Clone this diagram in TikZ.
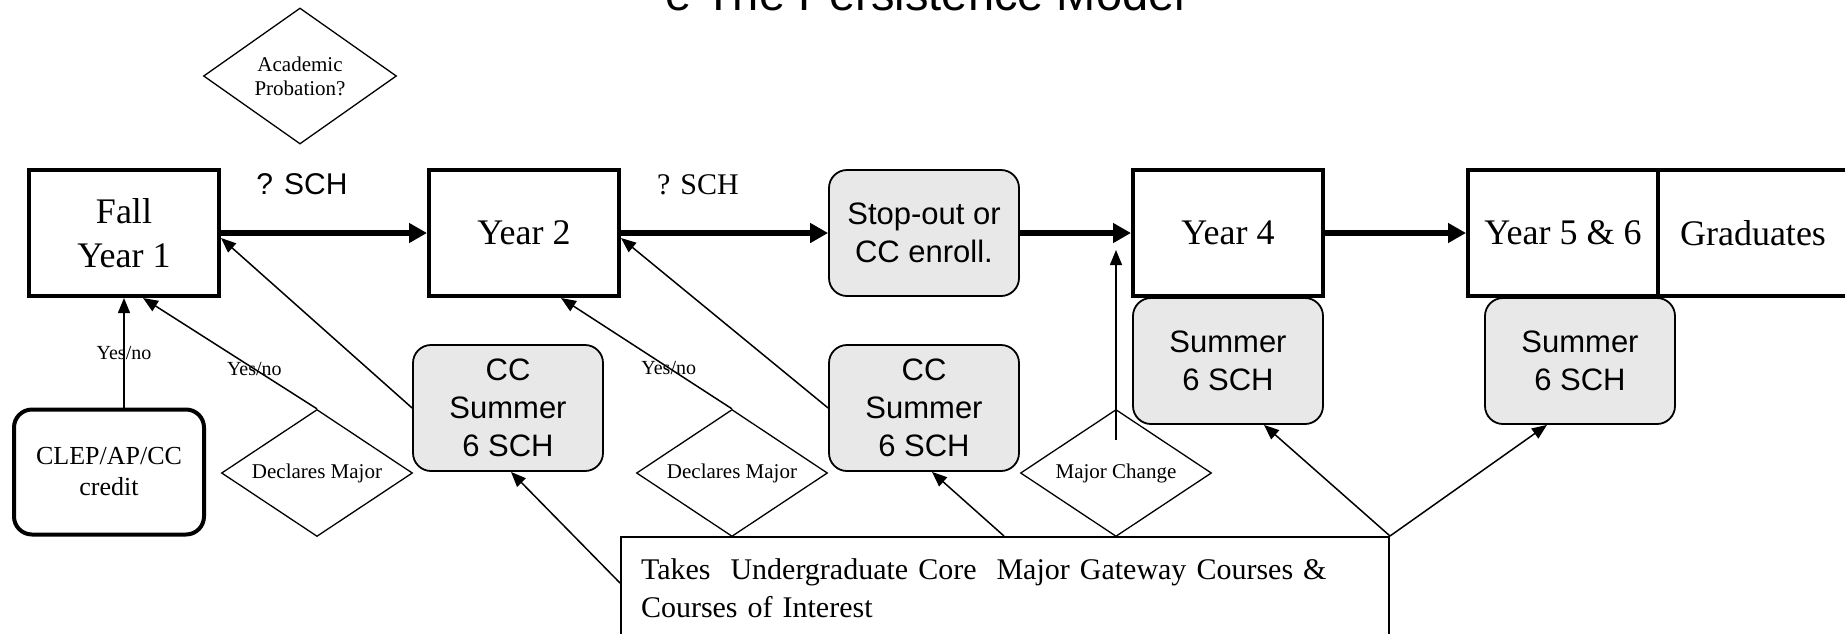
\documentclass[tikz,border=0pt]{standalone}
\usepackage{fontspec}
\setmainfont{Liberation Serif}
\setsansfont{Liberation Sans}
\usetikzlibrary{shapes.geometric,arrows.meta}
\definecolor{boxgray}{RGB}{232,232,232}
\tikzset{
  yearbox/.style={draw, line width=4pt, minimum width=190pt, minimum height=126pt, inner sep=0pt, align=center, font=\fontsize{36}{44}\selectfont},
  graybox/.style={draw, line width=1.8pt, rounded corners=18pt, fill=boxgray, minimum width=190pt, minimum height=126pt, inner sep=0pt, align=center, font=\sffamily\fontsize{31}{38}\selectfont},
  decision/.style={draw, diamond, aspect=1.5, line width=1.3pt, inner sep=1pt, minimum width=191pt, minimum height=127pt, align=center, font=\fontsize{21}{24}\selectfont},
  flow/.style={line width=6pt, -{Triangle[length=18pt,width=19pt]}},
  link/.style={line width=1.5pt, -{Triangle[length=15pt,width=12pt]}},
  yesno/.style={font=\fontsize{20}{24}\selectfont, inner sep=0pt}
}
\begin{document}
\begin{tikzpicture}[x=1pt,y=-1pt]
\useasboundingbox (0,0) rectangle (1845,633);
\clip (0,0) rectangle (1845,633);
\node[font=\sffamily\fontsize{47}{56}\selectfont, anchor=base] (title) at (925,10) {e The Persistence Model};
\node[decision, minimum width=193pt, minimum height=136pt] (probation) at (300,76) {Academic\\Probation?};
\node[yearbox] (fall) at (124,233) {Fall\\Year 1};
\node[yearbox] (year2) at (524,233) {Year 2};
\node[graybox] (stopout) at (924,233) {Stop-out or\\CC enroll.};
\node[yearbox] (year4) at (1228,233) {Year 4};
\node[yearbox] (year56) at (1563,233) {Year 5 \& 6};
\node[yearbox, anchor=west] (grad) at ([xshift=-4pt]year56.east) {Graduates};
\node[font=\sffamily\fontsize{30}{36}\selectfont] (sch1) at (302,184) {? SCH};
\node[font=\fontsize{30}{36}\selectfont] (sch2) at (698,185) {? SCH};
\node[graybox] (ccs1) at (508,408) {CC\\Summer\\6 SCH};
\node[graybox] (ccs2) at (924,408) {CC\\Summer\\6 SCH};
\node[graybox] (summer4) at (1228,361) {Summer\\6 SCH};
\node[graybox] (summer56) at (1580,361) {Summer\\6 SCH};
\node[draw, line width=4pt, rounded corners=18pt, minimum width=190pt, minimum height=125pt, inner sep=0pt, align=center, font=\fontsize{26}{31}\selectfont] (clep) at (109,472) {CLEP/AP/CC\\credit};
\node[decision] (dm1) at (317,473) {Declares Major};
\node[decision] (dm2) at (732,473) {Declares Major};
\node[decision] (mchange) at (1116,473) {Major Change};
\node[draw, line width=2pt, anchor=north west, text width=728pt, inner xsep=20pt, minimum height=102pt, align=left, font=\fontsize{30}{38}\selectfont] (takes) at (620,536) {Takes~ Undergraduate Core~ Major Gateway Courses \&\\Courses of Interest};
\coordinate (gap) at (1116,250);

\path[draw,flow] (fall) -- (year2);
\path[draw,flow] (year2) -- (stopout);
\path[draw,flow] (stopout) -- (year4);
\path[draw,flow] (year4) -- (year56);
\path[draw,link] (fall.south |- clep.north) -- node[yesno] {Yes/no} (fall.south);
\path[draw,link] (dm1.north) -- node[yesno, pos=.36] {Yes/no} ([xshift=19pt]fall.south);
\path[draw,link] (ccs1.west) -- ([yshift=-5pt]fall.east);
\path[draw,link] (dm2.north) -- node[yesno, pos=.37] {Yes/no} ([xshift=37pt]year2.south);
\path[draw,link] (ccs2.west) -- ([yshift=-5pt]year2.east);
\path[draw,link] ([yshift=-47pt]takes.north west) -- ([xshift=3pt]ccs1.south);
\path[draw,link] ([xshift=384pt]takes.north west) -- ([xshift=8pt]ccs2.south);
\path[draw,link] ([yshift=-31pt]mchange.north) -- (gap);
\path[draw,link] (takes.north east) -- ([xshift=36pt]summer4.south);
\path[draw,link] (takes.north east) -- ([xshift=-33pt]summer56.south);
\end{tikzpicture}
\end{document}
